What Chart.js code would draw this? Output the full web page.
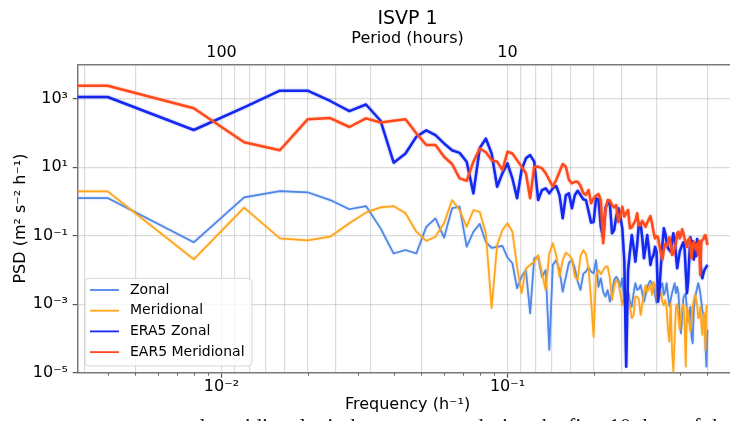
<!DOCTYPE html>
<html>
<head>
<meta charset="utf-8">
<script src="https://cdn.jsdelivr.net/npm/chart.js@4.4.1/dist/chart.umd.min.js"></script>
<style>
  html, body { margin: 0; padding: 0; width: 730px; height: 421px; overflow: hidden; background: #fff; }
  #wrap { position: absolute; left: 0; top: 0; width: 738px; height: 421px; }
  #paper { position: absolute; left: 0; width: 733px; top: 413px; text-align: right;
           font: 22px "Liberation Serif", serif; white-space: nowrap; color: #111; }
</style>
</head>
<body>
<div id="wrap"><canvas id="psdChart" width="738" height="421"></canvas></div>
<div id="paper">and meridional wind components during the first 10 days of the</div>
<script>
// sampling: 250 h record, hourly -> df = 0.004 h^-1 up to Nyquist 0.5
var freqStep = 0.004;
var nFreq = 125;
var frequency = Array.from({ length: nFreq }, function (_, i) { return +((i + 1) * freqStep).toFixed(3); });

// matplotlib clipped the f = 0 bin, which shows as a flat line to the left edge
var edgeFreq = 0.001;

var zonal = [
  1.25, 0.064, 1.31, 2.0, 1.84, 1.09, 0.59, 0.73, 0.163, 0.03,
  0.038, 0.03, 0.18, 0.32, 0.087, 0.63, 0.7, 0.047, 0.13, 0.22,
  0.065, 0.044, 0.047, 0.05, 0.023, 0.0156, 0.0029, 0.0063, 0.0099, 5.4e-4,
  0.0218, 0.024, 0.0063, 0.0099, 4.6e-5, 0.0139, 0.0194, 0.0099, 0.0023, 0.0063,
  0.0162, 0.0194, 0.0111, 0.0045, 0.0026, 0.0076, 0.0089, 0.0119, 0.0089, 0.0079,
  0.0194, 0.0032, 0.0057, 0.0023, 0.00165, 0.0026, 0.00118, 0.0023, 0.0051, 0.0063,
  0.0051, 0.0032, 0.0057, 0.00132, 0.00165, 0.0023, 0.00118, 8.4e-4, 0.0021, 0.0041,
  0.0026, 0.0028, 0.0036, 0.0021, 0.00118, 0.00185, 0.0031, 0.0041, 0.0048, 0.0039,
  0.0029, 0.00185, 0.0011, 0.00165, 0.0026, 0.0032, 0.0041, 0.00185, 0.0023, 0.0041,
  0.00185, 8.8e-4, 0.00132, 0.0021, 0.0029, 0.0041, 0.0021, 0.0032, 0.0021, 4.3e-4,
  1.4e-4, 4.3e-4, 0.00148, 0.00185, 0.002, 6.7e-4, 3.1e-4, 5.4e-4, 8.4e-4, 1.1e-4,
  7.2e-5, 6.7e-4, 0.00132, 0.0021, 0.0029, 0.0041, 0.0032, 0.0021, 0.00118, 6.7e-4,
  4.8e-4, 3.1e-4, 7.2e-5, 1.5e-5, 1.8e-4
];

var meridional = [
  1.96, 0.0204, 0.66, 0.083, 0.073, 0.093, 0.23, 0.47, 0.67, 0.73,
  0.45, 0.13, 0.07, 0.093, 0.23, 1.09, 0.56, 0.18, 0.56, 0.49,
  0.117, 7.7e-4, 0.053, 0.146, 0.23, 0.13, 0.0124, 0.0021, 0.0111, 0.0139,
  0.0173, 0.027, 0.0079, 0.0026, 0.03, 0.06, 0.027, 0.0063, 0.0194, 0.032,
  0.027, 0.0204, 0.0063, 0.0051, 0.025, 0.038, 0.029, 0.0111, 0.00132, 1.1e-4,
  0.0071, 0.0099, 0.0074, 0.0099, 0.0124, 0.0124, 0.0057, 0.00132, 0.0032, 0.0051,
  0.0043, 0.0021, 9.4e-4, 0.00165, 0.0023, 0.00165, 8.4e-4, 3.9e-4, 4.8e-4, 0.00165,
  0.00165, 0.0014, 4.8e-4, 9.4e-4, 0.0021, 0.0036, 0.0023, 0.0029, 0.0036, 0.00185,
  0.0045, 0.0036, 0.00165, 0.00118, 0.00165, 0.0023, 0.00118, 9.4e-4, 0.00132, 7.6e-4,
  1.8e-4, 8.0e-5, 0.00106, 4.6e-5, 1.07e-5, 9.0e-5, 8.4e-4, 0.001, 4.3e-4, 1.8e-4,
  4.3e-4, 8.4e-4, 0.001, 2.8e-4, 1.5e-5, 8.4e-4, 5.4e-4, 2.8e-4, 1.6e-4, 3.4e-4,
  8.4e-4, 0.00132, 0.00185, 0.00148, 9.4e-4, 3.9e-4, 4.3e-4, 8.4e-4, 2.8e-4, 1.26e-4,
  4.3e-4, 5.4e-4, 4.6e-5, 8.4e-4, 9.4e-4
];

var era5Zonal = [
  1110, 121, 550, 1700, 1700, 850, 430, 670, 225, 13.4,
  25, 77, 118, 86, 49, 31, 26, 14.4, 1.71, 36,
  68, 25, 2.67, 6.6, 12.9, 4.7, 1.23, 8.2, 18, 22.5,
  14.4, 1.09, 2.14, 2.4, 1.71, 2.4, 2.8, 1.53, 0.32, 1.53,
  1.71, 0.63, 1.53, 2.04, 1.53, 1.15, 1.09, 0.52, 0.24, 0.25,
  1.23, 1.15, 0.18, 0.089, 0.65, 0.88, 0.88, 0.117, 0.146, 0.36,
  0.63, 0.36, 0.163, 0.0194, 1.5e-5, 0.0099, 0.034, 0.104, 0.047, 0.0173,
  0.053, 0.23, 0.23, 0.083, 0.0218, 0.047, 0.104, 0.043, 0.0139, 0.0218,
  0.027, 0.047, 0.034, 0.00118, 0.0029, 0.0139, 0.053, 0.163, 0.117, 0.066,
  0.043, 0.038, 0.034, 0.066, 0.117, 0.083, 0.027, 0.0111, 0.0194, 0.034,
  0.043, 0.053, 0.064, 0.043, 0.0089, 0.0021, 0.0045, 0.0218, 0.09, 0.03,
  0.07, 0.02, 0.06, 0.025, 0.08, 0.03, 0.07, 0.0218, 0.0079, 0.0057,
  0.0079, 0.0099, 0.0111, 0.0124, 0.0139
];

var era5Meridional = [
  2370, 520, 53, 31, 248, 270, 148, 265, 200, 225,
  248, 97, 44, 44, 20, 12.3, 4.7, 4.0, 14.4, 35,
  27, 16, 14.4, 8.2, 28, 25, 16, 10.3, 6.6, 1.23,
  10.3, 10.3, 9.2, 6.6, 4.2, 2.67, 4.2, 7.3, 12.3, 10.3,
  4.2, 3.36, 3.74, 3.74, 2.86, 1.75, 1.53, 2.14, 0.88, 1.23,
  1.46, 1.64, 1.09, 0.06, 0.56, 1.09, 1.06, 0.78, 0.67, 0.78,
  0.25, 0.36, 0.7, 0.36, 0.45, 0.56, 0.163, 0.175, 0.22, 0.27,
  0.45, 0.2, 0.2, 0.27, 0.22, 0.18, 0.24, 0.3, 0.37, 0.23,
  0.13, 0.083, 0.097, 0.089, 0.05, 0.03, 0.02, 0.038, 0.057, 0.05,
  0.06, 0.089, 0.06, 0.027, 0.029, 0.043, 0.06, 0.117, 0.13, 0.083,
  0.104, 0.153, 0.117, 0.083, 0.062, 0.047, 0.074, 0.083, 0.053, 0.022,
  0.053, 0.066, 0.05, 0.038, 0.057, 0.027, 0.07, 0.0071, 0.066, 0.074,
  0.078, 0.097, 0.104, 0.078, 0.053
];

var seriesLabels = ['Zonal', 'Meridional', 'ERA5 Zonal', 'EAR5 Meridional'];
var seriesColors = ['#4f86e8', '#ffa51c', '#1428f0', '#ff4a1c'];

var xMin = 0.003143, xMax = 0.6365;
var yMin = 1e-5, yMax = 1e4;
var xTickValues = [0.01, 0.1];
var xTickLabels = ['10⁻²', '10⁻¹'];
var yTickValues = [1e-5, 1e-3, 1e-1, 1e1, 1e3];
var yTickLabels = ['10⁻⁵', '10⁻³', '10⁻¹', '10¹', '10³'];
var periodTicks = [300, 200, 100, 90, 80, 70, 60, 50, 40, 30, 20, 10, 9, 8, 7, 6, 5, 4, 3, 2];
var periodLabels = { 100: '100', 10: '10' };

var FONT = 'DejaVu Sans';
var gridColor = 'rgba(176,176,176,0.45)';
var spineColor = '#7a7a7a';

function makeSeries(idx, values, width, order) {
  var pts = [{ x: edgeFreq, y: values[0] }];
  frequency.forEach(function (f, i) { pts.push({ x: f, y: values[i] }); });
  return {
    label: seriesLabels[idx],
    data: pts,
    borderColor: seriesColors[idx],
    backgroundColor: seriesColors[idx],
    borderWidth: width,
    borderJoinStyle: 'round',
    pointRadius: 0,
    tension: 0,
    fill: false,
    order: order
  };
}

// soft halo round every line, like the reference
var lineHalo = {
  id: 'lineHalo',
  beforeDatasetDraw: function (chart, args) {
    var ctx = chart.ctx;
    ctx.save();
    ctx.shadowColor = seriesColors[args.index] + '80';
    ctx.shadowBlur = 2;
  },
  afterDatasetDraw: function (chart) {
    chart.ctx.restore();
  }
};

// title centred over the axes, not the canvas
var titlePlugin = {
  id: 'axesTitle',
  afterDraw: function (chart) {
    var ctx = chart.ctx, a = chart.chartArea;
    ctx.save();
    ctx.font = '19px "' + FONT + '"';
    ctx.fillStyle = '#000';
    ctx.textAlign = 'center';
    ctx.textBaseline = 'middle';
    ctx.fillText('ISVP 1', (a.left + a.right) / 2, 19.2);
    ctx.restore();
  }
};

// short minor tick marks on the frequency axis
var minorTicks = {
  id: 'minorTicks',
  afterDraw: function (chart) {
    var ctx = chart.ctx, sx = chart.scales.x, a = chart.chartArea;
    ctx.save();
    ctx.strokeStyle = '#666';
    ctx.lineWidth = 1;
    for (var e = -3; e <= -1; e++) {
      for (var m = 2; m <= 9; m++) {
        var v = m * Math.pow(10, e);
        if (v < xMin || v > xMax) continue;
        var px = Math.round(sx.getPixelForValue(v)) + 0.5;
        ctx.beginPath();
        ctx.moveTo(px, a.bottom);
        ctx.lineTo(px, a.bottom + 3);
        ctx.stroke();
      }
    }
    ctx.restore();
  }
};

// matplotlib-like legend box in the lower left of the axes
var boxLegend = {
  id: 'boxLegend',
  afterDatasetsDraw: function (chart) {
    var ctx = chart.ctx, a = chart.chartArea;
    var left = a.left + 7.3, right = a.left + 174.3, bottom = a.bottom - 6.7, top = bottom - 87.7;
    var r = 4;
    ctx.save();
    ctx.beginPath();
    ctx.moveTo(left + r, top);
    ctx.lineTo(right - r, top);
    ctx.quadraticCurveTo(right, top, right, top + r);
    ctx.lineTo(right, bottom - r);
    ctx.quadraticCurveTo(right, bottom, right - r, bottom);
    ctx.lineTo(left + r, bottom);
    ctx.quadraticCurveTo(left, bottom, left, bottom - r);
    ctx.lineTo(left, top + r);
    ctx.quadraticCurveTo(left, top, left + r, top);
    ctx.closePath();
    ctx.fillStyle = 'rgba(255,255,255,0.8)';
    ctx.fill();
    ctx.strokeStyle = 'rgba(204,204,204,0.8)';
    ctx.lineWidth = 1;
    ctx.stroke();
    ctx.font = '14px "' + FONT + '"';
    ctx.textBaseline = 'middle';
    ctx.textAlign = 'left';
    seriesLabels.forEach(function (lab, i) {
      var y = top + 11.7 + i * 20.7;
      ctx.strokeStyle = seriesColors[i];
      ctx.lineWidth = 1.8;
      ctx.beginPath();
      ctx.moveTo(left + 5, y);
      ctx.lineTo(left + 34, y);
      ctx.stroke();
      ctx.fillStyle = '#000';
      ctx.fillText(lab, left + 45, y);
    });
    ctx.restore();
  }
};

var tickFont = { family: FONT, size: 16, lineHeight: 1.2 };

new Chart(document.getElementById('psdChart').getContext('2d'), {
  type: 'line',
  data: {
    datasets: [
      makeSeries(0, zonal, 1.7, 4),
      makeSeries(1, meridional, 1.7, 3),
      makeSeries(2, era5Zonal, 2.5, 2),
      makeSeries(3, era5Meridional, 2.5, 1)
    ]
  },
  options: {
    responsive: false,
    animation: false,
    events: [],
    layout: { padding: { left: 0, right: 0.6, top: 27.6, bottom: 0 } },
    scales: {
      x: {
        type: 'logarithmic',
        position: 'bottom',
        min: xMin,
        max: xMax,
        afterBuildTicks: function (s) { s.ticks = xTickValues.map(function (v) { return { value: v }; }); },
        afterFit: function (s) { s.height = 48.3; },
        grid: { drawOnChartArea: false, tickLength: 5, tickColor: '#555', tickWidth: 1.2 },
        border: { color: spineColor, width: 1.5 },
        ticks: {
          autoSkip: false, maxRotation: 0, padding: 0, color: '#000', font: tickFont,
          callback: function (v) { return xTickLabels[xTickValues.indexOf(v)] || ''; }
        },
        title: {
          display: true, text: 'Frequency (h⁻¹)', color: '#000', font: tickFont,
          padding: { top: 0, bottom: 6.4 }
        }
      },
      x2: {
        type: 'logarithmic',
        position: 'top',
        reverse: true,
        min: 1 / xMax,
        max: 1 / xMin,
        afterBuildTicks: function (s) { s.ticks = periodTicks.map(function (v) { return { value: v }; }); },
        afterFit: function (s) { s.height = 36.7; },
        grid: { drawOnChartArea: true, drawTicks: false, color: gridColor, lineWidth: 1.2 },
        border: { color: spineColor, width: 1.5 },
        ticks: {
          autoSkip: false, maxRotation: 0, padding: 1.7, color: '#000', font: tickFont,
          callback: function (v) { return periodLabels[v] || ''; }
        },
        title: {
          display: true, text: 'Period (hours)', color: '#000', font: tickFont,
          padding: { top: 1.3, bottom: 0 }
        }
      },
      y: {
        type: 'logarithmic',
        position: 'left',
        min: yMin,
        max: yMax,
        afterBuildTicks: function (s) { s.ticks = yTickValues.map(function (v) { return { value: v }; }); },
        afterFit: function (s) { s.width = 77.7; },
        grid: { color: gridColor, lineWidth: 1.2, tickLength: 5, tickColor: '#555', tickWidth: 1.2 },
        border: { color: spineColor, width: 1.5 },
        ticks: {
          padding: 4.7, color: '#000', font: tickFont,
          callback: function (v) { return yTickLabels[yTickValues.indexOf(v)] || ''; }
        },
        title: {
          display: true, text: 'PSD (m² s⁻² h⁻¹)', color: '#000', font: tickFont,
          padding: { top: 11.4, bottom: 0 }
        }
      }
    },
    plugins: {
      legend: { display: false },
      title: { display: false },
      tooltip: { enabled: false }
    }
  },
  plugins: [lineHalo, titlePlugin, minorTicks, boxLegend]
});
</script>
</body>
</html>
